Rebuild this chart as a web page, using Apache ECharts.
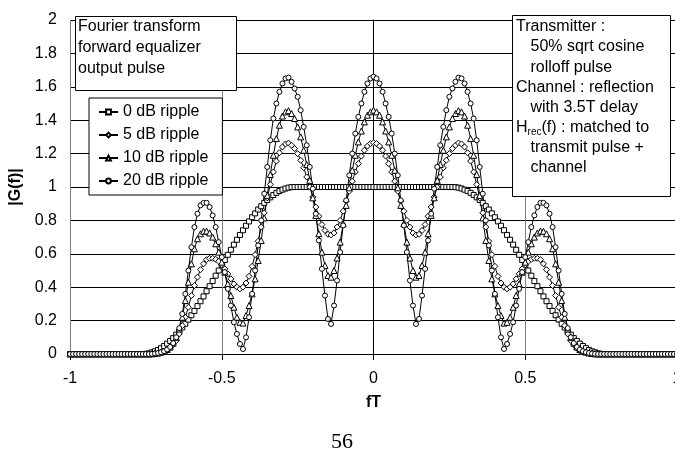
<!DOCTYPE html>
<html>
<head>
<meta charset="utf-8">
<script src="https://cdn.jsdelivr.net/npm/echarts@6/dist/echarts.min.js"></script>
<style>
  html, body { margin: 0; padding: 0; background: #fff; }
  #chart { width: 675px; height: 456px; }
</style>
</head>
<body>
<div id="chart"></div>
<script>
// sampling of the curves: fT from -1 to 1 in steps of 0.01
const fStart = -1, fStep = 0.01;

const seriesNames = ['0 dB ripple', '5 dB ripple', '10 dB ripple', '20 dB ripple'];

// |G(f)|, fT = -1 ... 1
const gain0 = [
  0,0,0,0,0,0,0,0,0,0,0,0,0,0,0,0,0,0,0,0,0,0,0,0,0,
  0.001,0.004,0.010,0.016,0.024,0.035,
  0.048,0.062,0.078,0.095,0.116,0.135,0.159,0.181,0.206,0.232,
  0.258,0.287,0.316,0.345,0.376,0.406,0.437,0.469,0.5,0.531,
  0.563,0.594,0.624,0.655,0.684,0.713,0.741,0.768,0.794,0.819,
  0.842,0.865,0.885,0.905,0.922,0.938,0.952,0.965,0.976,0.984,
  0.991,0.996,0.999,1,1,1,1,1,1,1,
  1,1,1,1,1,1,1,1,1,1,
  1,1,1,1,1,1,1,1,1,
  1,
  1,1,1,1,1,1,1,1,1,
  1,1,1,1,1,1,1,1,1,1,
  1,1,1,1,1,1,1,0.999,0.996,0.991,
  0.984,0.976,0.965,0.952,0.938,0.922,0.905,0.885,0.865,0.842,
  0.819,0.794,0.768,0.741,0.713,0.684,0.655,0.624,0.594,0.563,
  0.531,0.5,0.469,0.437,0.406,0.376,0.345,0.316,0.287,0.258,
  0.232,0.206,0.181,0.159,0.135,0.116,0.095,0.078,0.062,0.048,
  0.035,0.024,0.016,0.010,0.004,0.001,
  0,0,0,0,0,0,0,0,0,0,0,0,0,0,0,0,0,0,0,0,0,0,0,0,0
];

const gain5 = [
  0,0,0,0,0,0,0,0,0,0,0,0,0,0,0,0,0,0,0,0,0,0,0,0,0,0,0,
  0.001,0.003,0.005,0.009,
  0.014,0.022,0.035,0.055,0.08,0.12,0.17,0.22,0.28,0.35,
  0.41,0.46,0.505,0.54,0.565,0.573,0.573,0.567,0.555,0.535,
  0.51,0.48,0.45,0.42,0.40,0.39,0.40,0.425,0.465,0.525,
  0.595,0.675,0.76,0.845,0.935,1.015,1.09,1.155,1.205,1.24,
  1.258,1.263,1.25,1.23,1.20,1.16,1.115,1.06,1.00,0.94,
  0.88,0.825,0.775,0.74,0.717,0.713,0.725,0.76,0.80,0.855,
  0.915,0.975,1.035,1.09,1.14,1.185,1.22,1.245,1.26,
  1.265,
  1.26,1.245,1.22,1.185,1.14,1.09,1.035,0.975,0.915,
  0.855,0.80,0.76,0.725,0.713,0.717,0.74,0.775,0.825,0.88,
  0.94,1.00,1.06,1.115,1.16,1.20,1.23,1.25,1.263,1.258,
  1.24,1.205,1.155,1.09,1.015,0.935,0.845,0.76,0.675,0.595,
  0.525,0.465,0.425,0.40,0.39,0.40,0.42,0.45,0.48,0.51,
  0.535,0.555,0.567,0.573,0.573,0.565,0.54,0.505,0.46,0.41,
  0.35,0.28,0.22,0.17,0.12,0.08,0.055,0.035,0.022,0.014,
  0.009,0.005,0.003,0.001,
  0,0,0,0,0,0,0,0,0,0,0,0,0,0,0,0,0,0,0,0,0,0,0,0,0,0,0
];

const gain10 = [
  0,0,0,0,0,0,0,0,0,0,0,0,0,0,0,0,0,0,0,0,0,0,0,0,0,0,0,
  0.001,0.003,0.006,0.011,
  0.017,0.027,0.042,0.065,0.10,0.15,0.22,0.32,0.43,0.54,
  0.63,0.69,0.72,0.735,0.736,0.725,0.70,0.66,0.61,0.55,
  0.49,0.42,0.35,0.28,0.22,0.19,0.185,0.23,0.29,0.36,
  0.45,0.56,0.68,0.815,0.95,1.075,1.19,1.29,1.37,1.425,
  1.45,1.457,1.44,1.41,1.36,1.30,1.22,1.135,1.04,0.935,
  0.83,0.72,0.61,0.53,0.47,0.46,0.50,0.575,0.67,0.78,
  0.89,0.995,1.10,1.19,1.27,1.335,1.39,1.43,1.45,
  1.46,
  1.45,1.43,1.39,1.335,1.27,1.19,1.10,0.995,0.89,
  0.78,0.67,0.575,0.50,0.46,0.47,0.53,0.61,0.72,0.83,
  0.935,1.04,1.135,1.22,1.30,1.36,1.41,1.44,1.457,1.45,
  1.425,1.37,1.29,1.19,1.075,0.95,0.815,0.68,0.56,0.45,
  0.36,0.29,0.23,0.185,0.19,0.22,0.28,0.35,0.42,0.49,
  0.55,0.61,0.66,0.70,0.725,0.736,0.735,0.72,0.69,0.63,
  0.54,0.43,0.32,0.22,0.15,0.10,0.065,0.042,0.027,0.017,
  0.011,0.006,0.003,0.001,
  0,0,0,0,0,0,0,0,0,0,0,0,0,0,0,0,0,0,0,0,0,0,0,0,0,0,0
];

const gain20 = [
  0,0,0,0,0,0,0,0,0,0,0,0,0,0,0,0,0,0,0,0,0,0,0,0,0,0,0,
  0.001,0.003,0.006,0.011,
  0.017,0.027,0.042,0.065,0.10,0.155,0.24,0.36,0.50,0.64,
  0.76,0.84,0.89,0.905,0.905,0.88,0.83,0.76,0.67,0.58,
  0.49,0.39,0.29,0.19,0.12,0.06,0.03,0.10,0.22,0.36,
  0.50,0.65,0.80,0.96,1.12,1.28,1.41,1.50,1.57,1.62,
  1.65,1.655,1.63,1.59,1.54,1.46,1.36,1.25,1.12,0.99,
  0.84,0.68,0.51,0.35,0.21,0.18,0.29,0.44,0.61,0.77,
  0.92,1.07,1.20,1.32,1.42,1.50,1.57,1.62,1.65,
  1.66,
  1.65,1.62,1.57,1.50,1.42,1.32,1.20,1.07,0.92,
  0.77,0.61,0.44,0.29,0.18,0.21,0.35,0.51,0.68,0.84,
  0.99,1.12,1.25,1.36,1.46,1.54,1.59,1.63,1.655,1.65,
  1.62,1.57,1.50,1.41,1.28,1.12,0.96,0.80,0.65,0.50,
  0.36,0.22,0.10,0.03,0.06,0.12,0.19,0.29,0.39,0.49,
  0.58,0.67,0.76,0.83,0.88,0.905,0.905,0.89,0.84,0.76,
  0.64,0.50,0.36,0.24,0.155,0.10,0.065,0.042,0.027,0.017,
  0.011,0.006,0.003,0.001,
  0,0,0,0,0,0,0,0,0,0,0,0,0,0,0,0,0,0,0,0,0,0,0,0,0,0,0
];

const boxLeftLines = ['Fourier transform', 'forward equalizer', 'output pulse'];
// [text, indented]
const boxRightLines = [
  ['Transmitter :', 0],
  ['50% sqrt cosine', 1],
  ['rolloff pulse', 1],
  ['Channel : reflection', 0],
  ['with 3.5T delay', 1],
  ['{a|H}{b|rec}{a|(f) : matched to}', 0],
  ['transmit pulse +', 1],
  ['channel', 1]
];

const FONT = 'Liberation Sans, Arial, sans-serif';

function toPoints(vals) {
  return vals.map((v, i) => [+(fStart + i * fStep).toFixed(2), v]);
}

const chart = echarts.init(document.getElementById('chart'));

const markers = [
  { data: gain0, symbol: 'rect', size: 5 },
  { data: gain5, symbol: 'diamond', size: 6 },
  { data: gain10, symbol: 'triangle', size: 6 },
  { data: gain20, symbol: 'circle', size: 5 }
];

const series = markers.map((m, i) => ({
  name: seriesNames[i],
  type: 'line',
  data: toPoints(m.data),
  symbol: m.symbol,
  symbolSize: m.size,
  showAllSymbol: true,
  lineStyle: { color: '#000', width: 1 },
  itemStyle: { color: '#fff', borderColor: '#000', borderWidth: 1 },
  emphasis: { disabled: true }
}));

// text boxes
const graphic = [];
graphic.push({
  type: 'rect', z: 100,
  shape: { x: 75.5, y: 16.5, width: 161, height: 74 },
  style: { fill: '#fff', stroke: '#000', lineWidth: 1 }
});
boxLeftLines.forEach((t, i) => {
  graphic.push({
    type: 'text', z: 101,
    style: {
      text: t, x: 78, y: 27 + i * 20.6,
      fontSize: 16, fontFamily: FONT, fill: '#000', verticalAlign: 'middle'
    }
  });
});
graphic.push({
  type: 'rect', z: 100,
  shape: { x: 512.5, y: 15.5, width: 158, height: 181 },
  style: { fill: '#fff', stroke: '#000', lineWidth: 1 }
});
boxRightLines.forEach((l, i) => {
  graphic.push({
    type: 'text', z: 101,
    style: {
      text: l[0], x: 516 + l[1] * 14.5, y: 27 + i * 20.05,
      fontSize: 16, fontFamily: FONT, fill: '#000', verticalAlign: 'middle',
      rich: {
        a: { fontSize: 16, fontFamily: FONT, lineHeight: 20 },
        b: { fontSize: 10, fontFamily: FONT, lineHeight: 12, verticalAlign: 'bottom' }
      }
    }
  });
});
graphic.push({
  type: 'text', z: 101,
  style: {
    text: '56', x: 342, y: 442,
    fontSize: 22, fontFamily: 'Liberation Serif, Times New Roman, serif',
    fill: '#000', align: 'center', verticalAlign: 'middle'
  }
});

const option = {
  backgroundColor: '#fff',
  animation: false,
  grid: { left: 70, right: -2, top: 20, bottom: 102, outerBoundsMode: 'none' },
  legend: {
    left: 89, top: 98,
    orient: 'vertical',
    data: seriesNames,
    backgroundColor: '#fff',
    borderColor: '#000',
    borderWidth: 1,
    padding: [6, 14, 6, 9],
    itemWidth: 19,
    itemHeight: 6,
    itemGap: 7,
    textStyle: { fontSize: 16, fontFamily: FONT, color: '#000' },
    z: 50
  },
  xAxis: {
    type: 'value',
    min: -1, max: 1, interval: 0.5,
    name: 'fT',
    nameLocation: 'middle',
    nameGap: 41,
    nameTextStyle: { fontSize: 16, fontWeight: 'bold', fontFamily: FONT, color: '#000' },
    axisLine: { lineStyle: { color: '#000', width: 1 } },
    axisTick: { show: true, length: 6, lineStyle: { color: '#000' } },
    axisLabel: { fontSize: 16, fontFamily: FONT, color: '#000', margin: 17 },
    splitLine: { show: true, lineStyle: { color: '#808080', width: 1 } }
  },
  yAxis: {
    type: 'value',
    min: 0, max: 2, interval: 0.2,
    name: '|G(f)|',
    nameLocation: 'middle',
    nameGap: 45,
    nameTextStyle: { fontSize: 16, fontWeight: 'bold', fontFamily: FONT, color: '#000' },
    axisLine: { show: true, lineStyle: { color: '#000', width: 1 } },
    axisTick: { show: true, length: 5, lineStyle: { color: '#000' } },
    axisLabel: { fontSize: 16, fontFamily: FONT, color: '#000', margin: 13 },
    splitLine: { show: true, lineStyle: { color: '#000', width: 1 } }
  },
  graphic: graphic,
  series: series
};

chart.setOption(option);
</script>
</body>
</html>
